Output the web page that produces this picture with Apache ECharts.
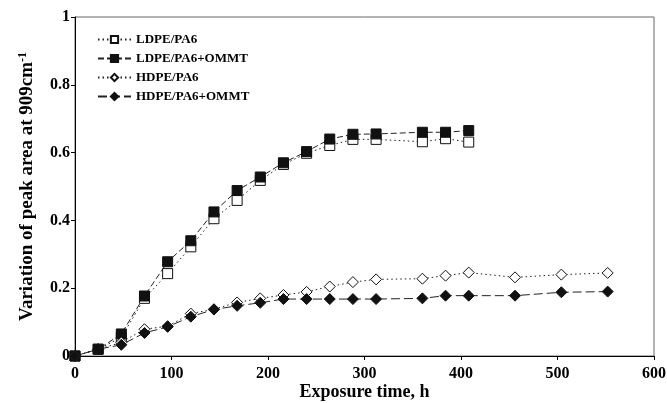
<!DOCTYPE html>
<html>
<head>
<meta charset="utf-8">
<script src="https://cdn.jsdelivr.net/npm/echarts@6/dist/echarts.min.js"></script>
<style>
  html, body { margin: 0; padding: 0; background: #fff; }
  #chart { width: 667px; height: 403px; }
</style>
</head>
<body>
<div id="chart"></div>
<script>
// Exposure times (h) for each blend family
const ldpeHours = [0, 24, 48, 72, 96, 120, 144, 168, 192, 216, 240, 264, 288, 312, 360, 384, 408];
const hdpeHours = [0, 24, 48, 72, 96, 120, 144, 168, 192, 216, 240, 264, 288, 312, 360, 384, 408, 456, 504, 552];

// Variation of the 909 cm-1 peak area
const ldpePa6      = [0, 0.02, 0.055, 0.17, 0.243, 0.322, 0.405, 0.459, 0.518, 0.565, 0.598, 0.621, 0.639, 0.639, 0.632, 0.641, 0.631];
const ldpePa6Ommt  = [0, 0.02, 0.065, 0.177, 0.278, 0.34, 0.425, 0.488, 0.528, 0.57, 0.603, 0.64, 0.654, 0.655, 0.66, 0.66, 0.665];
const hdpePa6      = [0, 0.02, 0.04, 0.079, 0.088, 0.125, 0.138, 0.158, 0.17, 0.18, 0.189, 0.205, 0.218, 0.226, 0.228, 0.237, 0.246, 0.232, 0.24, 0.245];
const hdpePa6Ommt  = [0, 0.02, 0.033, 0.068, 0.086, 0.116, 0.137, 0.148, 0.157, 0.168, 0.168, 0.168, 0.168, 0.168, 0.17, 0.178, 0.178, 0.178, 0.188, 0.19];

const seriesNames = ['LDPE/PA6', 'LDPE/PA6+OMMT', 'HDPE/PA6', 'HDPE/PA6+OMMT'];
const xTicks = { min: 0, max: 600, interval: 100 };
const yTicks = { min: 0, max: 1, interval: 0.2 };

const FONT = '"Liberation Serif", "Times New Roman", serif';
const pair = (xs, ys) => xs.map((x, i) => [x, ys[i]]);

function makeSeries(name, data, symbol, size, filled, dash) {
  return {
    name: name,
    type: 'line',
    data: data,
    symbol: symbol,
    symbolSize: size,
    showAllSymbol: true,
    lineStyle: { color: '#222', width: 1, type: dash },
    itemStyle: {
      color: filled ? '#111' : '#fff',
      borderColor: '#111',
      borderWidth: 1
    },
    emphasis: { disabled: true },
    animation: false
  };
}

const chart = echarts.init(document.getElementById('chart'), null, { renderer: 'canvas' });
chart.setOption({
  backgroundColor: '#fff',
  animation: false,
  grid: {
    left: 75, right: 13, top: 17, bottom: 47,
    containLabel: false,
    outerBoundsMode: 'none',
    show: true, borderColor: '#666', borderWidth: 1
  },
  legend: {
    orient: 'vertical',
    left: 92, top: 28,
    itemWidth: 33, itemHeight: 9, itemGap: 6,
    textStyle: { fontFamily: FONT, fontWeight: 'bold', fontSize: 13, color: '#000' },
    data: seriesNames
  },
  xAxis: {
    type: 'value',
    min: xTicks.min, max: xTicks.max, interval: xTicks.interval,
    name: 'Exposure time, h',
    nameLocation: 'middle', nameGap: 27, nameMoveOverlap: false,
    nameTextStyle: { fontFamily: FONT, fontWeight: 'bold', fontSize: 18, color: '#000' },
    axisLine: { onZero: false, lineStyle: { color: '#000', width: 1 } },
    axisTick: { show: true, length: 4, lineStyle: { color: '#000' } },
    axisLabel: { fontFamily: FONT, fontWeight: 'bold', fontSize: 16, color: '#000', margin: 10 },
    splitLine: { show: false }
  },
  yAxis: {
    type: 'value',
    min: yTicks.min, max: yTicks.max, interval: yTicks.interval,
    name: 'Variation of peak area at 909cm{sup|-1}',
    nameLocation: 'middle', nameGap: 38, nameRotate: 90, nameMoveOverlap: false,
    nameTextStyle: {
      fontFamily: FONT, fontWeight: 'bold', fontSize: 19, color: '#000',
      rich: {
        sup: { fontFamily: FONT, fontWeight: 'bold', fontSize: 12, color: '#000', verticalAlign: 'top', padding: [0, 0, 8, 0] }
      }
    },
    axisLine: { onZero: false, lineStyle: { color: '#000', width: 1 } },
    axisTick: { show: true, length: 4, lineStyle: { color: '#000' } },
    axisLabel: { fontFamily: FONT, fontWeight: 'bold', fontSize: 16, color: '#000', margin: 5 },
    splitLine: { show: false }
  },
  series: [
    makeSeries(seriesNames[0], pair(ldpeHours, ldpePa6), 'rect', 10, false, [1.5, 3]),
    makeSeries(seriesNames[1], pair(ldpeHours, ldpePa6Ommt), 'rect', 10, true, [6, 3]),
    makeSeries(seriesNames[2], pair(hdpeHours, hdpePa6), 'diamond', 11, false, [1.5, 3]),
    makeSeries(seriesNames[3], pair(hdpeHours, hdpePa6Ommt), 'diamond', 11, true, [9, 4])
  ]
});
</script>
</body>
</html>
